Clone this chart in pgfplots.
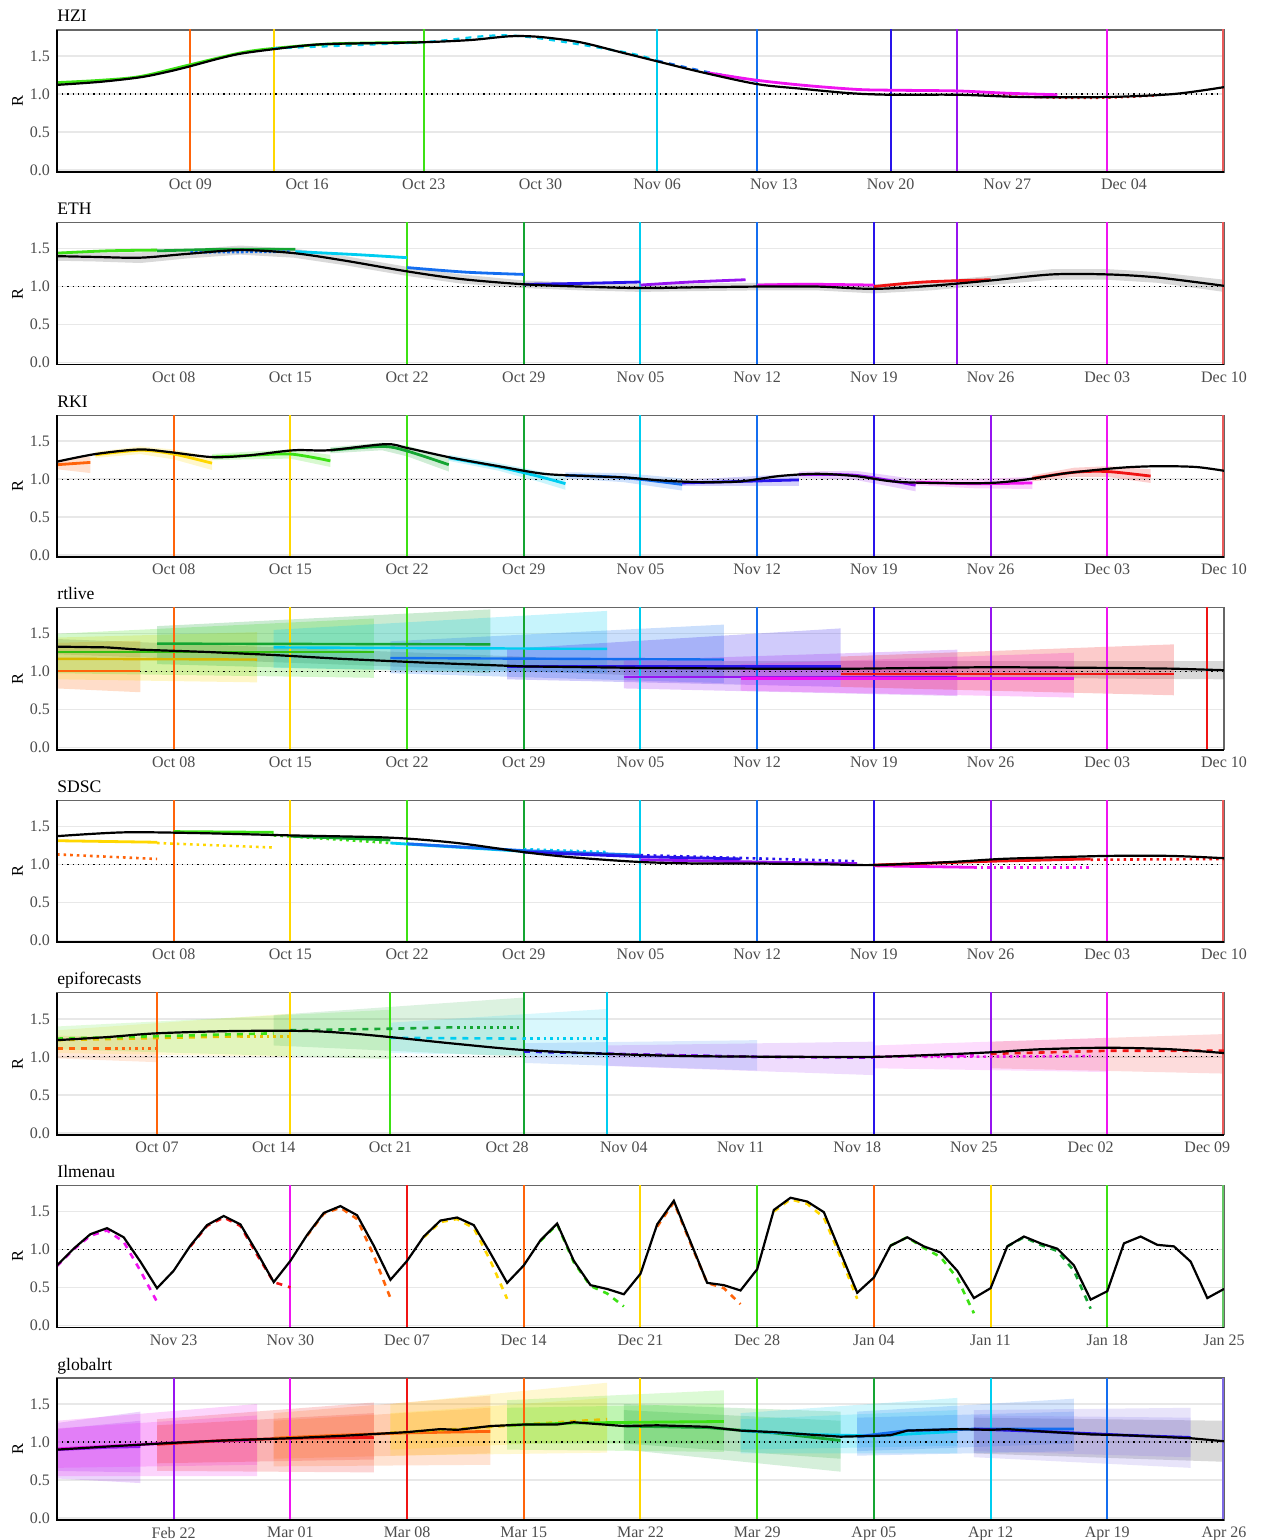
\documentclass[border=0pt]{standalone}
\usepackage{fontspec}
\setmainfont{Liberation Serif}
\usepackage{pgfplots}
\pgfplotsset{compat=1.18}

\definecolor{cOr}{RGB}{255,100,10}
\definecolor{cYe}{RGB}{255,215,0}
\definecolor{cLi}{RGB}{60,225,20}
\definecolor{cGr}{RGB}{20,165,50}
\definecolor{cCy}{RGB}{0,205,240}
\definecolor{cAz}{RGB}{20,110,240}
\definecolor{cBl}{RGB}{40,20,235}
\definecolor{cVi}{RGB}{150,20,240}
\definecolor{cMa}{RGB}{240,20,240}
\definecolor{cRe}{RGB}{240,20,20}
\definecolor{cSl}{RGB}{125,105,230}
\definecolor{cEdgeG}{RGB}{100,200,100}
\definecolor{cEdgeR}{RGB}{235,90,90}

\newcommand{\vl}[2]{\addplot[#1, line width=1pt] coordinates {(#2,-0.1) (#2,2)};}
\newcommand{\one}{\addplot[black, line width=0.6pt, dotted] coordinates {(0,1) (70,1)};}
\newcommand{\band}[3][0.18]{\addplot[draw=none, fill=#2, fill opacity=#1] coordinates {#3};}

\pgfplotsset{
  panel/.style={
    scale only axis, width=583.5pt, height=71pt,
    xmin=0, xmax=70, ymin=-0.0263, ymax=1.842,
    ytick={0,0.5,1,1.5}, yticklabels={0.0,0.5,1.0,1.5},
    ymajorgrids, grid style={black!9, line width=0.7pt},
    major tick length=0pt,
    axis line style={black!60, line width=0.6pt},
    tick label style={font=\rmfamily\fontsize{8}{8}\selectfont, text=black!70},
    /pgf/number format/assume math mode=true,
    anchor=south west,
    after end axis/.code={
      \draw[black, line width=0.9pt] (rel axis cs:0,1) -- (rel axis cs:0,0) -- (rel axis cs:1,0);
      \path (rel axis cs:0,1) ++(0,4pt) node[anchor=base west, inner sep=0, font=\rmfamily\fontsize{8.8}{9}\selectfont]{#1};
      \path (rel axis cs:0,0.5) ++(-17pt,0) node[rotate=90, anchor=base, inner sep=0, font=\rmfamily\fontsize{8.2}{9}\selectfont]{R};
    },
  },
  octlab/.style={xtick={7,14,21,28,35,42,49,56,63,70},
    xticklabels={Oct 08,Oct 15,Oct 22,Oct 29,Nov 05,Nov 12,Nov 19,Nov 26,Dec 03,Dec 10}},
}

\begin{document}
\begin{tikzpicture}
\useasboundingbox (-28.5pt,-684pt) rectangle (604.5pt,86pt);

% ---------------- HZI ----------------
\begin{axis}[panel={HZI}, at={(0,0)},
  xtick={8,15,22,29,36,43,50,57,64},
  xticklabels={Oct 09,Oct 16,Oct 23,Oct 30,Nov 06,Nov 13,Nov 20,Nov 27,Dec 04}]
\one
\vl{cOr}{8}\vl{cYe}{13}\vl{cLi}{22}\vl{cCy}{36}\vl{cAz}{42}\vl{cBl}{50}\vl{cVi}{54}\vl{cMa}{63}\vl{cEdgeR}{69.92}
\addplot[cLi, line width=1.4pt, smooth] coordinates {(0,1.15)(2.6,1.18)(5,1.23)(7.9,1.38)(11,1.54)(13,1.60)(16.6,1.66)(21.8,1.68)};
\addplot[cCy, line width=1.1pt, dashed, smooth] coordinates {(13,1.60)(21.8,1.68)(27.2,1.77)(33.8,1.56)(36,1.44)};
\addplot[cAz, line width=1.1pt, dashed, smooth] coordinates {(36,1.44)(39,1.29)(42,1.17)};
\addplot[cMa, line width=1.4pt, smooth] coordinates {(39,1.28)(42,1.18)(45,1.11)(48,1.06)(50,1.05)(54,1.04)(57,1.01)(60,0.99)};
\addplot[cRe, line width=1.1pt, dotted, smooth] coordinates {(56,0.98)(60,0.95)(63,0.95)(66,0.98)};
\addplot[black, line width=1.1pt, smooth] coordinates {(0,1.12)(2.6,1.16)(5,1.22)(6.6,1.29)(7.9,1.36)(9.6,1.46)(11,1.53)(13,1.59)(15,1.64)(16.6,1.66)(21.8,1.68)(24.8,1.71)(27.2,1.76)(29,1.75)(31.4,1.68)(33.8,1.55)(36,1.43)(38.6,1.29)(42,1.13)(44.6,1.07)(47.6,1.01)(50,0.99)(54,0.99)(58,0.96)(63,0.96)(67,1.0)(70,1.09)};
\end{axis}

% ---------------- ETH ----------------
\begin{axis}[panel={ETH}, at={(0,-96.29pt)}, octlab]
\addplot[draw=none, fill=black, fill opacity=0.15] coordinates {(0,1.46)(2.3,1.45)(5,1.45)(7.8,1.49)(11,1.54)(14.2,1.50)(17.3,1.40)(21,1.26)(24.2,1.16)(28,1.08)(31.4,1.05)(35,1.03)(38.3,1.04)(42,1.05)(45.6,1.05)(49,1.03)(52.4,1.07)(56,1.14)(59.7,1.23)(63,1.23)(66,1.19)(70,1.09)(70,0.93)(66,1.05)(63,1.09)(59.7,1.09)(56,1.02)(52.4,0.95)(49,0.91)(45.6,0.95)(42,0.95)(38.3,0.94)(35,0.93)(31.4,0.95)(28,0.98)(24.2,1.04)(21,1.14)(17.3,1.28)(14.2,1.38)(11,1.42)(7.8,1.37)(5,1.31)(2.3,1.33)(0,1.34)};
\one
\vl{cLi}{21}\vl{cGr}{28}\vl{cCy}{35}\vl{cAz}{42}\vl{cBl}{49}\vl{cVi}{54}\vl{cMa}{63}\vl{cEdgeR}{69.92}
\addplot[cLi, line width=1.4pt, smooth] coordinates {(0,1.44)(3,1.47)(6,1.48)};
\addplot[cGr, line width=1.4pt, smooth] coordinates {(6,1.47)(10,1.49)(14.3,1.49)};
\addplot[cCy, line width=1.4pt, smooth] coordinates {(14.3,1.46)(18,1.42)(21,1.38)};
\addplot[cAz, line width=1.3pt, densely dotted] coordinates {(8,1.45)(14,1.46)};
\addplot[cAz, line width=1.4pt, smooth] coordinates {(21,1.25)(24.5,1.19)(28,1.16)};
\addplot[cBl, line width=1.4pt, smooth] coordinates {(28,1.03)(31,1.04)(35,1.06)};
\addplot[cVi, line width=1.4pt, smooth] coordinates {(35,1.02)(38,1.06)(41.3,1.09)};
\addplot[cMa, line width=1.4pt, smooth] coordinates {(42,1.02)(45,1.03)(49,1.02)};
\addplot[cRe, line width=1.4pt, smooth] coordinates {(49,1.0)(52,1.06)(56,1.09)};
\addplot[black, line width=1.1pt, smooth] coordinates {(0,1.40)(2.3,1.39)(5,1.38)(7.8,1.43)(11,1.48)(14.2,1.44)(17.3,1.34)(21,1.20)(24.2,1.10)(28,1.03)(31.4,1.00)(35,0.98)(38.3,0.99)(42,1.0)(45.6,1.0)(49,0.97)(52.4,1.01)(56,1.08)(59.7,1.16)(63,1.16)(66,1.12)(70,1.01)};
\end{axis}

% ---------------- RKI ----------------
\begin{axis}[panel={RKI}, at={(0,-192.57pt)}, octlab]
\band[0.2]{cOr}{(0,1.13)(2,1.08)(2,1.30)(0,1.25)}
\band[0.2]{cYe}{(2.3,1.36)(5,1.43)(7,1.39)(9.3,1.29)(9.3,1.12)(7,1.26)(5,1.33)(2.3,1.28)}
\band[0.2]{cLi}{(9.3,1.33)(11.4,1.36)(14,1.39)(16.4,1.32)(16.4,1.16)(14,1.27)(11.4,1.26)(9.3,1.25)}
\band[0.2]{cGr}{(16.4,1.42)(19.5,1.48)(21,1.44)(23.5,1.28)(23.5,1.10)(21,1.30)(19.5,1.38)(16.4,1.34)}
\band[0.2]{cCy}{(23.5,1.32)(26.5,1.21)(29,1.10)(30.5,1.02)(30.5,0.86)(29,0.96)(26.5,1.11)(23.5,1.24)}
\band[0.2]{cAz}{(30.5,1.09)(34,1.08)(37.5,1.01)(37.5,0.85)(34,0.96)(30.5,1.01)}
\band[0.2]{cBl}{(37.5,0.99)(41,1.03)(44.5,1.07)(44.5,0.91)(41,0.91)(37.5,0.91)}
\band[0.2]{cVi}{(44.5,1.10)(47.9,1.11)(51.5,1.00)(51.5,0.84)(47.9,0.99)(44.5,1.02)}
\band[0.2]{cMa}{(51.5,1.0)(55,1.0)(58.5,1.03)(58.5,0.87)(55,0.88)(51.5,0.92)}
\band[0.2]{cRe}{(58.5,1.05)(61,1.15)(63,1.17)(65.6,1.13)(65.6,0.95)(63,1.03)(61,1.03)(58.5,0.97)}
\one
\vl{cOr}{7}\vl{cYe}{14}\vl{cLi}{21}\vl{cGr}{28}\vl{cCy}{35}\vl{cAz}{42}\vl{cBl}{49}\vl{cVi}{56}\vl{cMa}{63}\vl{cEdgeR}{69.92}
\addplot[cOr, line width=1.4pt] coordinates {(0,1.19)(2,1.22)};
\addplot[cYe, line width=1.4pt, smooth] coordinates {(2.3,1.32)(5,1.38)(7,1.33)(9.3,1.21)};
\addplot[cLi, line width=1.4pt, smooth] coordinates {(9.3,1.29)(11.4,1.31)(14,1.33)(16.4,1.24)};
\addplot[cGr, line width=1.4pt, smooth] coordinates {(16.4,1.38)(19.5,1.43)(21,1.37)(23.5,1.19)};
\addplot[cCy, line width=1.4pt, smooth] coordinates {(23.5,1.28)(26.5,1.16)(29,1.03)(30.5,0.94)};
\addplot[cAz, line width=1.4pt, smooth] coordinates {(30.5,1.05)(34,1.02)(37.5,0.93)};
\addplot[cBl, line width=1.4pt, smooth] coordinates {(37.5,0.95)(41,0.97)(44.5,0.99)};
\addplot[cVi, line width=1.4pt, smooth] coordinates {(44.5,1.06)(47.9,1.05)(51.5,0.92)};
\addplot[cMa, line width=1.4pt, smooth] coordinates {(51.5,0.96)(55,0.94)(58.5,0.95)};
\addplot[cRe, line width=1.4pt, smooth] coordinates {(58.5,1.01)(61,1.09)(63,1.10)(65.6,1.04)};
\addplot[black, line width=1.1pt, smooth] coordinates {(0,1.23)(2.3,1.33)(4.9,1.39)(6.6,1.36)(9.3,1.29)(11.4,1.31)(14.2,1.38)(16.3,1.38)(19.7,1.46)(21,1.41)(23.7,1.28)(26.5,1.17)(29.2,1.07)(31.9,1.04)(34.2,1.02)(36.4,0.98)(38.7,0.96)(41,0.97)(43.3,1.04)(45.6,1.07)(47.9,1.04)(50.1,0.97)(52.4,0.95)(56,0.95)(58.3,1.0)(60.6,1.08)(63.8,1.15)(66,1.17)(68.3,1.16)(70,1.11)};
\end{axis}

% ---------------- rtlive ----------------
\begin{axis}[panel={rtlive}, at={(0,-288.86pt)}, octlab]
\addplot[draw=none, fill=black, fill opacity=0.15] coordinates {(0,1.43)(35,1.14)(70,1.14)(70,0.90)(35,0.95)(0,1.23)};
\band[0.22]{cOr}{(0,0.78)(5,0.73)(5,1.41)(0,1.38)}
\band[0.22]{cYe}{(0,0.90)(12,0.86)(12,1.52)(0,1.45)}
\band[0.22]{cLi}{(0,0.98)(19,0.92)(19,1.70)(0,1.50)}
\band[0.22]{cGr}{(6,1.10)(26,0.98)(26,1.82)(6,1.60)}
\band[0.22]{cCy}{(13,1.05)(33,0.98)(33,1.80)(13,1.55)}
\band[0.22]{cAz}{(20,0.98)(40,0.85)(40,1.62)(20,1.40)}
\band[0.22]{cBl}{(27,0.90)(47,0.80)(47,1.57)(27,1.30)}
\band[0.22]{cVi}{(34,0.78)(54,0.68)(54,1.29)(34,1.15)}
\band[0.22]{cMa}{(41,0.75)(61,0.66)(61,1.25)(41,1.10)}
\band[0.22]{cRe}{(47,0.80)(67,0.69)(67,1.36)(47,1.20)}
\one
\vl{cOr}{7}\vl{cYe}{14}\vl{cLi}{21}\vl{cGr}{28}\vl{cCy}{35}\vl{cAz}{42}\vl{cBl}{49}\vl{cVi}{56}\vl{cMa}{63}\vl{cRe}{69}
\addplot[cOr, line width=1.2pt] coordinates {(0,1.01)(5,1.01)};
\addplot[cYe!85!black, line width=1.2pt] coordinates {(0,1.17)(12,1.16)};
\addplot[cLi!85!black, line width=1.2pt] coordinates {(0,1.26)(19,1.26)};
\addplot[cGr, line width=1.2pt] coordinates {(6,1.37)(26,1.36)};
\addplot[cCy, line width=1.2pt] coordinates {(13,1.32)(33,1.30)};
\addplot[cAz, line width=1.2pt] coordinates {(20,1.18)(40,1.16)};
\addplot[cBl, line width=1.2pt] coordinates {(27,1.07)(47,1.07)};
\addplot[cVi, line width=1.2pt] coordinates {(34,0.93)(54,0.93)};
\addplot[cMa, line width=1.2pt] coordinates {(41,0.91)(61,0.91)};
\addplot[cRe, line width=1.2pt] coordinates {(47,0.97)(67,0.97)};
\addplot[black, line width=1.1pt] coordinates {(0,1.33)(3,1.32)(5,1.29)(9,1.26)(13,1.22)(17,1.17)(22,1.12)(28,1.07)(35,1.05)(42,1.04)(48,1.04)(56,1.06)(63,1.05)(67,1.04)(70,1.02)};
\end{axis}

% ---------------- SDSC ----------------
\begin{axis}[panel={SDSC}, at={(0,-385.14pt)}, octlab]
\one
\vl{cOr}{7}\vl{cYe}{14}\vl{cLi}{21}\vl{cGr}{28}\vl{cCy}{35}\vl{cAz}{42}\vl{cBl}{49}\vl{cVi}{56}\vl{cMa}{63}\vl{cEdgeR}{69.92}
\addplot[cOr, line width=1.3pt, dotted] coordinates {(0,1.13)(6,1.07)};
\addplot[cYe, line width=1.4pt] coordinates {(0,1.31)(6,1.29)};
\addplot[cYe, line width=1.3pt, dotted] coordinates {(6,1.28)(13,1.22)};
\addplot[cLi, line width=1.4pt] coordinates {(7,1.43)(13,1.42)};
\addplot[cLi, line width=1.3pt, dotted] coordinates {(13,1.38)(20,1.28)};
\addplot[cGr, line width=1.4pt] coordinates {(14,1.37)(20,1.32)};
\addplot[cCy, line width=1.4pt] coordinates {(20,1.28)(28,1.17)};
\addplot[cCy, line width=1.3pt, dotted] coordinates {(28,1.20)(33,1.16)};
\addplot[cAz, line width=1.4pt] coordinates {(21,1.27)(28,1.18)(35,1.12)};
\addplot[cBl, line width=1.4pt] coordinates {(28,1.16)(35,1.10)(41,1.07)};
\addplot[cBl, line width=1.3pt, dotted] coordinates {(35,1.12)(48,1.04)};
\addplot[cVi, line width=1.4pt] coordinates {(35,1.06)(42,1.03)(48,1.01)};
\addplot[cMa, line width=1.4pt] coordinates {(49,0.98)(55,0.96)};
\addplot[cMa, line width=1.3pt, dotted] coordinates {(55,0.96)(62,0.96)};
\addplot[cRe, line width=1.4pt] coordinates {(49,0.99)(56,1.04)(62,1.07)};
\addplot[cRe, line width=1.3pt, dotted] coordinates {(62,1.06)(70,1.07)};
\addplot[black, line width=1.1pt, smooth] coordinates {(0,1.37)(4,1.42)(8.5,1.41)(14,1.38)(20,1.35)(24,1.28)(28,1.16)(31,1.09)(35,1.03)(38.5,1.01)(42,1.01)(46,1.0)(49,0.99)(53.6,1.03)(56.6,1.07)(59.6,1.09)(63,1.11)(66.8,1.11)(70,1.08)};
\end{axis}

% ---------------- epiforecasts ----------------
\begin{axis}[panel={epiforecasts}, at={(0,-481.43pt)},
  xtick={6,13,20,27,34,41,48,55,62,69},
  xticklabels={Oct 07,Oct 14,Oct 21,Oct 28,Nov 04,Nov 11,Nov 18,Nov 25,Dec 02,Dec 09}]
\band[0.15]{cOr}{(0,0.98)(6,0.93)(6,1.25)(0,1.28)}
\band[0.15]{cYe}{(0,1.05)(14,1.00)(14,1.57)(0,1.35)}
\band[0.15]{cLi}{(0,1.10)(20,0.97)(20,1.62)(0,1.40)}
\band[0.15]{cGr}{(13,1.15)(28,1.00)(28,1.78)(13,1.55)}
\band[0.15]{cCy}{(20,1.05)(33,1.00)(33,1.63)(20,1.45)}
\band[0.15]{cAz}{(28,0.92)(42,0.82)(42,1.22)(28,1.18)}
\band[0.15]{cVi}{(33,0.88)(49,0.76)(49,1.20)(33,1.15)}
\band[0.15]{cMa}{(49,0.85)(63,0.80)(63,1.25)(49,1.15)}
\band[0.15]{cRe}{(56,0.85)(70,0.78)(70,1.30)(56,1.20)}
\one
\vl{cOr}{6}\vl{cYe}{14}\vl{cLi}{20}\vl{cGr}{28}\vl{cCy}{33}\vl{cBl}{49}\vl{cVi}{56}\vl{cMa}{63}\vl{cEdgeR}{69.92}
\addplot[cOr, line width=1.3pt, dashed] coordinates {(0,1.11)(3.5,1.11)};
\addplot[cOr, line width=1.3pt, dotted] coordinates {(3.5,1.11)(6,1.11)};
\addplot[cYe!90!black, line width=1.3pt, dashed] coordinates {(0,1.22)(11,1.27)};
\addplot[cYe!90!black, line width=1.3pt, dotted] coordinates {(11,1.27)(14,1.27)};
\addplot[cLi, line width=1.3pt, dashed] coordinates {(0,1.24)(13,1.31)};
\addplot[cGr, line width=1.3pt, dashed] coordinates {(14,1.35)(20,1.37)(24,1.39)};
\addplot[cGr, line width=1.3pt, dotted] coordinates {(24,1.39)(28,1.39)};
\addplot[cCy, line width=1.3pt, dashed] coordinates {(20,1.25)(28,1.24)};
\addplot[cCy, line width=1.3pt, dotted] coordinates {(28,1.24)(33,1.24)};
\addplot[cBl, line width=1.3pt, dashed] coordinates {(28,1.07)(35,1.03)(42,1.0)};
\addplot[cBl, line width=1.3pt, dotted] coordinates {(42,1.0)(49,1.0)};
\addplot[cVi, line width=1.3pt, dashed] coordinates {(33,1.04)(42,1.0)(49,0.99)};
\addplot[cMa, line width=1.3pt, dashed] coordinates {(49,1.0)(55,1.02)};
\addplot[cMa, line width=1.3pt, dotted] coordinates {(52,1.0)(62,1.01)};
\addplot[cRe, line width=1.3pt, dashed] coordinates {(56,1.04)(63,1.08)(70,1.08)};
\addplot[black, line width=1.1pt, smooth] coordinates {(0,1.22)(3,1.26)(6,1.31)(10.6,1.34)(15,1.34)(17.5,1.31)(20,1.26)(24,1.17)(28,1.09)(33,1.04)(38,1.01)(45,1.0)(49,1.0)(53,1.03)(56,1.06)(59,1.10)(63,1.12)(66.8,1.10)(70,1.05)};
\end{axis}

% ---------------- Ilmenau ----------------
\begin{axis}[panel={Ilmenau}, at={(0,-577.71pt)},
  xtick={7,14,21,28,35,42,49,56,63,70},
  xticklabels={Nov 23,Nov 30,Dec 07,Dec 14,Dec 21,Dec 28,Jan 04,Jan 11,Jan 18,Jan 25}]
\one
\vl{cMa}{14}\vl{cRe}{21}\vl{cOr}{28}\vl{cYe}{35}\vl{cLi}{42}\vl{cOr}{49}\vl{cYe}{56}\vl{cLi}{63}\vl{cEdgeG}{69.92}
\addplot[cMa, line width=1.3pt, dashed] coordinates {(0,0.78)(1,1.0)(2,1.18)(3,1.25)(4,1.10)(5,0.72)(6,0.31)};
\addplot[cRe, line width=1.3pt, dashed] coordinates {(8,1.04)(9,1.31)(10,1.42)(11,1.31)(12,0.93)(13,0.57)(14,0.50)};
\addplot[cOr, line width=1.3pt, dashed] coordinates {(15,1.18)(16,1.47)(17,1.55)(18,1.40)(19,0.92)(20,0.36)};
\addplot[cYe, line width=1.3pt, dashed] coordinates {(22,1.16)(23,1.36)(24,1.40)(25,1.28)(26,0.85)(27,0.35)};
\addplot[cLi, line width=1.3pt, dashed] coordinates {(29,1.11)(30,1.33)(31,0.83)(32,0.52)(33,0.42)(34,0.25)};
\addplot[cOr, line width=1.3pt, dashed] coordinates {(36,1.30)(37,1.62)(38,1.08)(39,0.56)(40,0.49)(41,0.28)};
\addplot[cYe, line width=1.3pt, dashed] coordinates {(43,1.50)(44,1.66)(45,1.60)(46,1.42)(47,0.90)(48,0.35)};
\addplot[cLi, line width=1.3pt, dashed] coordinates {(50,1.05)(51,1.16)(52,1.02)(53,0.90)(54,0.62)(55,0.16)};
\addplot[cGr, line width=1.3pt, dashed] coordinates {(57,1.04)(58,1.16)(59,1.06)(60,0.98)(61,0.72)(62,0.22)};
\addplot[black, line width=1.1pt] coordinates {(0,0.79)(1,1.01)(2,1.20)(3,1.28)(4,1.16)(5,0.84)(6,0.49)(7,0.72)(8,1.05)(9,1.32)(10,1.44)(11,1.33)(12,0.96)(13,0.57)(14,0.85)(15,1.19)(16,1.48)(17,1.57)(18,1.45)(19,1.05)(20,0.60)(21,0.85)(22,1.17)(23,1.38)(24,1.42)(25,1.32)(26,0.95)(27,0.56)(28,0.79)(29,1.12)(30,1.34)(31,0.85)(32,0.53)(33,0.48)(34,0.41)(35,0.68)(36,1.33)(37,1.64)(38,1.10)(39,0.56)(40,0.53)(41,0.46)(42,0.74)(43,1.52)(44,1.68)(45,1.63)(46,1.49)(47,0.96)(48,0.43)(49,0.63)(50,1.05)(51,1.16)(52,1.04)(53,0.96)(54,0.72)(55,0.36)(56,0.49)(57,1.04)(58,1.17)(59,1.08)(60,1.01)(61,0.79)(62,0.34)(63,0.45)(64,1.08)(65,1.17)(66,1.06)(67,1.04)(68,0.84)(69,0.36)(70,0.48)};
\end{axis}

% ---------------- globalrt ----------------
\begin{axis}[panel={globalrt}, at={(0,-674pt)},
  xtick={7,14,21,28,35,42,49,56,63,70},
  xticklabels={Feb 22,Mar 01,Mar 08,Mar 15,Mar 22,Mar 29,Apr 05,Apr 12,Apr 19,Apr 26}]
\addplot[draw=none, fill=black, fill opacity=0.15] coordinates {(55,0.85)(70,0.74)(70,1.28)(55,1.32)};
\band{cVi}{(0,0.52)(5,0.46)(5,1.40)(0,1.25)}
\band{cVi}{(0,0.62)(5,0.60)(5,1.28)(0,1.17)}
\band{cMa}{(0,0.55)(12,0.55)(12,1.50)(0,1.28)}
\band{cMa}{(0,0.66)(12,0.70)(12,1.35)(0,1.18)}
\band{cRe}{(6,0.62)(19,0.60)(19,1.52)(6,1.30)}
\band{cRe}{(6,0.72)(19,0.77)(19,1.38)(6,1.22)}
\band{cOr}{(13,0.68)(26,0.70)(26,1.61)(13,1.38)}
\band{cOr}{(13,0.78)(26,0.85)(26,1.45)(13,1.28)}
\band{cYe}{(20,0.82)(33,0.86)(33,1.78)(20,1.50)}
\band{cYe}{(20,0.90)(33,1.02)(33,1.58)(20,1.38)}
\band{cLi}{(27,0.90)(40,0.87)(40,1.68)(27,1.55)}
\band{cLi}{(27,0.98)(40,0.98)(40,1.50)(27,1.45)}
\band{cGr}{(34,0.90)(47,0.61)(47,1.40)(34,1.50)}
\band{cGr}{(34,0.98)(47,0.78)(47,1.28)(34,1.42)}
\band{cCy}{(41,0.85)(54,0.85)(54,1.58)(41,1.38)}
\band{cCy}{(41,0.90)(54,0.95)(54,1.42)(41,1.30)}
\band{cAz}{(48,0.82)(61,0.88)(61,1.57)(48,1.40)}
\band{cAz}{(48,0.88)(61,0.98)(61,1.40)(48,1.32)}
\band{cSl}{(55,0.80)(68,0.66)(68,1.45)(55,1.42)}
\band{cSl}{(55,0.88)(68,0.80)(68,1.32)(55,1.35)}
\one
\vl{cVi}{7}\vl{cMa}{14}\vl{cRe}{21}\vl{cOr}{28}\vl{cYe}{35}\vl{cLi}{42}\vl{cGr}{49}\vl{cCy}{56}\vl{cAz}{63}\vl{cSl}{69.92}
\addplot[cVi, line width=1.4pt] coordinates {(0,0.90)(3,0.93)(5,0.94)};
\addplot[cMa, line width=1.4pt] coordinates {(0,0.91)(7,0.99)(12,1.03)};
\addplot[cRe, line width=1.4pt] coordinates {(6,0.97)(10,1.02)(14,1.05)(19,1.06)};
\addplot[cOr, line width=1.4pt] coordinates {(13,1.05)(17,1.09)(21,1.12)(26,1.14)};
\addplot[cYe!90!black, line width=1.4pt, dashed] coordinates {(20,1.12)(24,1.17)(28,1.23)(33,1.30)};
\addplot[cLi, line width=1.4pt] coordinates {(27,1.22)(31,1.25)(35,1.26)(40,1.27)};
\addplot[cGr, line width=1.4pt] coordinates {(34,1.21)(39,1.19)(43,1.12)(47,1.02)};
\addplot[cCy, line width=1.4pt] coordinates {(41,1.15)(45,1.10)(49,1.08)(54,1.14)};
\addplot[cAz, line width=1.4pt] coordinates {(48,1.07)(51,1.15)(55,1.17)(61,1.17)};
\addplot[cBl, line width=1.4pt] coordinates {(55,1.17)(59,1.14)(64,1.09)(68,1.06)};
\addplot[black, line width=1.1pt] coordinates {(0,0.90)(3,0.94)(7,0.99)(10,1.02)(14,1.05)(17,1.08)(21,1.13)(23,1.17)(24,1.16)(26,1.21)(28,1.23)(30,1.23)(31,1.26)(34,1.21)(36,1.22)(39,1.20)(41,1.15)(43,1.13)(47,1.07)(49,1.08)(50,1.09)(51,1.15)(54,1.17)(56,1.16)(57,1.17)(59,1.14)(62,1.10)(64,1.09)(68,1.05)(70,1.01)};
\end{axis}
\end{tikzpicture}
\end{document}
